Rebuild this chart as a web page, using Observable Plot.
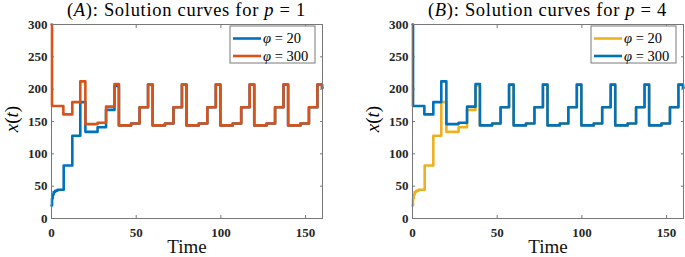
<!DOCTYPE html>
<html><head><meta charset="utf-8">
<script src="https://cdn.jsdelivr.net/npm/d3@7"></script>
<script src="https://cdn.jsdelivr.net/npm/@observablehq/plot@0.6"></script>
<style>
html,body{margin:0;padding:0;background:#fff;}
#chart{position:relative;width:685px;height:257px;overflow:hidden;background:#fff;}
#chart svg{position:absolute;top:0;}
</style></head><body><div id="chart"></div>
<script>
// ---- data ----
const xTicks = [0, 50, 100, 150];
const yTicks = [0, 50, 100, 150, 200, 250, 300];
const panelLetters = ["A", "B"];
const panelP = ["1", "4"];
const seriesLabels = ["20", "300"];

// phi = 20 : step breakpoints (time, level)
const phi20Time  = [0, 0.3, 0.7, 1.3, 2.2, 3.5, 7.2, 12.3, 17, 20, 27.2, 32.2, 37.2, 39.8, 47, 52, 57, 59.7, 67, 72, 77, 79.7, 87, 92, 97, 99.7, 107, 112, 117, 119.7, 127, 132, 137, 139.7, 147, 152, 157, 159.7, 160];
const phi20Value = [20, 31, 37, 41, 43, 44.5, 82, 128, 180, 134, 141, 168, 205, 144, 147, 172, 207, 144, 147, 172, 207, 144, 147, 172, 207, 144, 147, 172, 207, 144, 147, 172, 207, 144, 147, 172, 207, 202, 202];
// phi = 300
const phi300Time  = [0, 0.3, 7, 12.3, 17, 20, 27.2, 32.2, 37.2, 39.8, 47, 52, 57, 59.7, 67, 72, 77, 79.7, 87, 92, 97, 99.7, 107, 112, 117, 119.7, 127, 132, 137, 139.7, 147, 152, 157, 159.7, 160];
const phi300Value = [300, 174, 161, 180, 212, 146, 148, 173, 208, 144, 147, 172, 207, 144, 147, 172, 207, 144, 147, 172, 207, 144, 147, 172, 207, 144, 147, 172, 207, 144, 147, 172, 207, 202, 202];

// ---- styling ----
const BLUE = "#0072BD", ORANGE = "#D95319", YELLOW = "#EDB120";
const panelColors = [[BLUE, ORANGE], [YELLOW, BLUE]];
const layout = [
  {left: 0,   width: 342, ml: 51, mr: 20},
  {left: 342, width: 343, ml: 70, mr: 2}
];
const SERIF = "'Liberation Serif', 'Times New Roman', serif";
const AX = "#777";

const d20 = phi20Time.map((t, i) => ({t, v: phi20Value[i]}));
const d300 = phi300Time.map((t, i) => ({t, v: phi300Value[i]}));
const container = document.getElementById("chart");

panelLetters.forEach((letter, k) => {
  const L = layout[k];
  const [c20, c300] = panelColors[k];
  const lab = {fontFamily: SERIF, fontWeight: "bold", fontSize: 13, fill: "#262626", label: null};
  const svg = Plot.plot({
    width: L.width, height: 257,
    marginLeft: L.ml, marginRight: L.mr, marginTop: 24, marginBottom: 39,
    x: {domain: [0, 160]},
    y: {domain: [0, 300]},
    style: {fontFamily: SERIF, background: "white", overflow: "visible"},
    marks: [
      Plot.line(d20, {x: "t", y: "v", curve: "step-after", stroke: c20, strokeWidth: 2.6}),
      Plot.line(d300, {x: "t", y: "v", curve: "step-after", stroke: c300, strokeWidth: 2.6}),
      Plot.frame({stroke: AX, strokeWidth: 1}),
      Plot.axisX(xTicks, {anchor: "bottom", tickSize: 0, tickPadding: 9, ...lab}),
      Plot.axisY(yTicks, {anchor: "left", tickSize: 0, tickPadding: 4, ...lab}),
      Plot.axisX(xTicks, {anchor: "bottom", tickSize: -3, stroke: AX, tickFormat: () => "", label: null}),
      Plot.axisX(xTicks, {anchor: "top", tickSize: -3, stroke: AX, tickFormat: () => "", label: null}),
      Plot.axisY(yTicks, {anchor: "left", tickSize: -3, stroke: AX, tickFormat: () => "", label: null}),
      Plot.axisY(yTicks, {anchor: "right", tickSize: -3, stroke: AX, tickFormat: () => "", label: null}),
      Plot.text(["Time"], {frameAnchor: "bottom", dy: 34.5, fontSize: 19, fontFamily: SERIF, fontWeight: "normal", fill: "#111"})
    ]
  });
  svg.style.left = L.left + "px";
  container.appendChild(svg);

  const sx = svg.scale("x"), sy = svg.scale("y");
  const x0 = sx.range[0], x1 = sx.range[1];
  const yTop = sy.range[1], yBot = sy.range[0];
  const s = d3.select(svg);

  // title
  const title = s.append("text")
    .attr("x", (x0 + x1) / 2).attr("y", 16)
    .attr("text-anchor", "middle")
    .style("font-family", SERIF).attr("font-size", 18.5)
    .attr("letter-spacing", 0.7).attr("fill", "#000");
  title.append("tspan").text("(");
  title.append("tspan").attr("font-style", "italic").text(letter);
  title.append("tspan").text("): Solution curves for ");
  title.append("tspan").attr("font-style", "italic").text("p");
  title.append("tspan").text(" = " + panelP[k]);

  // y label
  const yl = s.append("text")
    .attr("transform", `translate(${x0 - 33},${(yTop + yBot) / 2 - 2}) rotate(-90)`)
    .attr("text-anchor", "middle")
    .style("font-family", SERIF).attr("font-size", 19).attr("fill", "#000");
  yl.append("tspan").attr("font-style", "italic").text("x");
  yl.append("tspan").text("(");
  yl.append("tspan").attr("font-style", "italic").text("t");
  yl.append("tspan").text(")");

  // legend
  const bw = 85, bh = 37;
  const bx = x1 - 7 - bw, by = yTop + 2;
  const g = s.append("g");
  g.append("rect").attr("x", bx).attr("y", by).attr("width", bw).attr("height", bh)
    .attr("fill", "white").attr("stroke", "#7a7a7a").attr("stroke-width", 1);
  [c20, c300].forEach((c, i) => {
    const ry = by + 12.5 + i * 17.5;
    g.append("line").attr("x1", bx + 3).attr("x2", bx + 31).attr("y1", ry).attr("y2", ry)
      .attr("stroke", c).attr("stroke-width", 2.6);
    const t = g.append("text").attr("x", bx + 33).attr("y", ry + 4.5)
      .attr("text-anchor", "start")
      .style("font-family", SERIF).attr("font-size", 14.5).attr("fill", "#000");
    t.append("tspan").attr("font-style", "italic").text("φ");
    t.append("tspan").text(" = " + seriesLabels[i]);
  });
});
</script></body></html>
